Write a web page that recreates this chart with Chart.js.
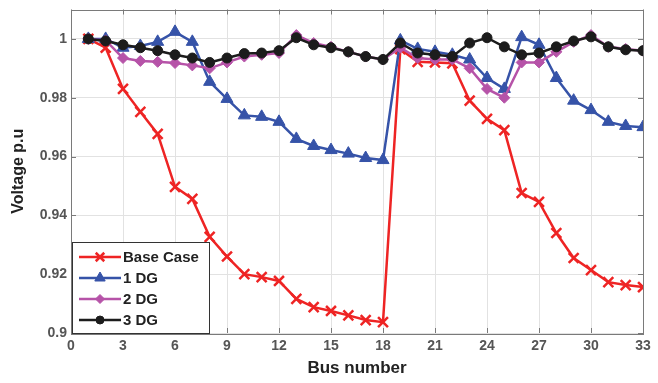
<!DOCTYPE html>
<html>
<head>
<meta charset="utf-8">
<script src="https://cdn.jsdelivr.net/npm/chart.js@4.4.0/dist/chart.umd.min.js"></script>
<style>
  html, body { margin: 0; padding: 0; background: #fff; }
  #wrap { width: 658px; height: 383px; position: relative; }
</style>
</head>
<body>
<div id="wrap"><canvas id="voltChart" width="658" height="383"></canvas></div>
<script>
// bus voltage profile
const buses = [1,2,3,4,5,6,7,8,9,10,11,12,13,14,15,16,17,18,19,20,21,22,23,24,25,26,27,28,29,30,31,32,33];
const baseCase = [1.0, 0.997, 0.983, 0.9752, 0.9677, 0.9497, 0.9456, 0.9327, 0.926, 0.920, 0.919, 0.9177,
    0.9116, 0.9088, 0.9075, 0.906, 0.9044, 0.9037, 0.9965, 0.9922, 0.992, 0.9917, 0.979, 0.9728, 0.969,
    0.9476, 0.9446, 0.934, 0.9255, 0.9214, 0.9173, 0.9163, 0.9156];
const oneDG = [1.0, 1.0, 0.997, 0.9976, 0.999, 1.0024, 0.999, 0.9854, 0.9796, 0.974, 0.9735, 0.9718,
    0.966, 0.9636, 0.9622, 0.961, 0.9595, 0.9588, 0.9995, 0.9966, 0.9956, 0.9946, 0.993, 0.9867, 0.983,
    1.0006, 0.998, 0.9867, 0.979, 0.9758, 0.9718, 0.9704, 0.970];
const twoDG = [1.0, 0.9995, 0.9935, 0.9925, 0.9922, 0.9918, 0.991, 0.990, 0.992, 0.994, 0.9946, 0.9952,
    1.0013, 0.9986, 0.9973, 0.9956, 0.994, 0.993, 0.997, 0.9935, 0.993, 0.993, 0.990, 0.983, 0.980,
    0.992, 0.992, 0.9956, 0.999, 1.0013, 0.9973, 0.9966, 0.996];
const threeDG = [1.0, 0.9993, 0.998, 0.997, 0.996, 0.9946, 0.9935, 0.992, 0.9935, 0.995, 0.9952, 0.996,
    1.0004, 0.998, 0.997, 0.9956, 0.994, 0.993, 0.9986, 0.9952, 0.9946, 0.994, 0.9986, 1.0004, 0.9973,
    0.9946, 0.9952, 0.9973, 0.9993, 1.0007, 0.9973, 0.9963, 0.996];
const seriesNames = ['Base Case', '1 DG', '2 DG', '3 DG'];
const xTicks = [0, 3, 6, 9, 12, 15, 18, 21, 24, 27, 30, 33];
const yTicks = [0.9, 0.92, 0.94, 0.96, 0.98, 1.0];

const FONT = '"Liberation Sans Narrow", "Liberation Sans", Arial, sans-serif';

function pts(vals) {
    return vals.map((v, i) => ({ x: buses[i], y: v }));
}

// frame + inward ticks (matlab style) and the legend box in the lower left
const framePlugin = {
    id: 'frame',
    afterDatasetsDraw(chart) {
        const { ctx, chartArea: a, scales } = chart;
        ctx.save();
        ctx.strokeStyle = '#7a7a7a';
        ctx.lineWidth = 1;
        ctx.beginPath();
        xTicks.forEach(t => {
            const x = Math.round(scales.x.getPixelForValue(t)) + 0.5;
            ctx.moveTo(x, a.bottom); ctx.lineTo(x, a.bottom - 5);
            ctx.moveTo(x, a.top); ctx.lineTo(x, a.top + 5);
        });
        yTicks.forEach(t => {
            const y = Math.round(scales.y.getPixelForValue(t)) + 0.5;
            ctx.moveTo(a.left, y); ctx.lineTo(a.left + 5, y);
            ctx.moveTo(a.right, y); ctx.lineTo(a.right - 5, y);
        });
        ctx.stroke();
        ctx.strokeRect(Math.round(a.left) + 0.5, Math.round(a.top) + 0.5,
            Math.round(a.right - a.left), Math.round(a.bottom - a.top));

        // legend
        const lx = a.left + 1, ly = a.bottom - 91, lw = 137, lh = 91;
        ctx.fillStyle = '#fff';
        ctx.fillRect(lx, ly, lw, lh);
        ctx.strokeStyle = '#333';
        ctx.strokeRect(lx + 0.5, ly + 0.5, lw, lh);
        chart.data.datasets.forEach((ds, i) => {
            const y = ly + 15 + i * 21;
            ctx.strokeStyle = ds.borderColor;
            ctx.fillStyle = ds.backgroundColor;
            ctx.lineWidth = 2.5;
            ctx.beginPath();
            ctx.moveTo(lx + 7, y); ctx.lineTo(lx + 49, y);
            ctx.stroke();
            ctx.lineWidth = ds.pointBorderWidth;
            Chart.helpers.drawPoint(ctx, {
                pointStyle: ds.pointStyle,
                radius: ds.pointRadius - 1,
                borderWidth: ds.pointBorderWidth
            }, lx + 28, y);
            ctx.fillStyle = '#222';
            ctx.font = 'bold 15px ' + FONT;
            ctx.textBaseline = 'middle';
            ctx.fillText(ds.label, lx + 51, y + 1);
        });
        ctx.restore();
    }
};

new Chart(document.getElementById('voltChart'), {
    type: 'line',
    data: {
        datasets: [
            {
                label: seriesNames[0], data: pts(baseCase),
                borderColor: '#ee2424', backgroundColor: '#ee2424',
                pointStyle: 'crossRot', pointRadius: 7, pointBorderWidth: 2.5, order: 3
            },
            {
                label: seriesNames[1], data: pts(oneDG),
                borderColor: '#3653a8', backgroundColor: '#3653a8',
                pointStyle: 'triangle', pointRadius: 7, pointBorderWidth: 1, order: 2
            },
            {
                label: seriesNames[2], data: pts(twoDG),
                borderColor: '#b653a8', backgroundColor: '#b653a8',
                pointStyle: 'rectRot', pointRadius: 5.5, pointBorderWidth: 1, order: 1
            },
            {
                label: seriesNames[3], data: pts(threeDG),
                borderColor: '#1c1c1c', backgroundColor: '#1c1c1c',
                pointStyle: 'circle', pointRadius: 5, pointBorderWidth: 1, order: 0
            }
        ]
    },
    options: {
        responsive: false,
        animation: false,
        devicePixelRatio: 1,
        layout: { padding: { top: 9, right: 15, left: 5, bottom: 0 } },
        elements: {
            line: { borderWidth: 2.5, tension: 0 },
            point: { hoverRadius: 6 }
        },
        plugins: {
            legend: { display: false },
            tooltip: { enabled: false }
        },
        scales: {
            x: {
                type: 'linear',
                min: 0,
                max: 33,
                afterBuildTicks: (axis) => { axis.ticks = xTicks.map(v => ({ value: v })); },
                afterFit: (axis) => { axis.height = 50; },
                ticks: {
                    color: '#555',
                    padding: 5,
                    autoSkip: false,
                    maxRotation: 0,
                    minRotation: 0,
                    font: { size: 14, weight: 'bold', family: FONT }
                },
                grid: { color: '#e2e2e2', drawTicks: false },
                border: { display: false },
                title: {
                    display: true,
                    text: 'Bus number',
                    color: '#222',
                    padding: { top: 9 },
                    font: { size: 17, weight: 'bold', family: FONT }
                }
            },
            y: {
                type: 'linear',
                min: 0.9,
                max: 1.01,
                afterBuildTicks: (axis) => { axis.ticks = yTicks.map(v => ({ value: v })); },
                afterFit: (axis) => {
                    axis.width = 66;
                    axis.paddingTop = 0;
                    axis.paddingBottom = 0;
                },
                ticks: {
                    color: '#555',
                    padding: 4,
                    autoSkip: false,
                    font: { size: 14, weight: 'bold', family: FONT },
                    callback: (v) => String(Number(v.toFixed(2)))
                },
                grid: { color: '#e2e2e2', drawTicks: false },
                border: { display: false },
                title: {
                    display: true,
                    text: 'Voltage p.u',
                    color: '#222',
                    padding: { bottom: 4 },
                    font: { size: 16, weight: 'bold', family: FONT }
                }
            }
        }
    },
    plugins: [framePlugin]
});
</script>
</body>
</html>
